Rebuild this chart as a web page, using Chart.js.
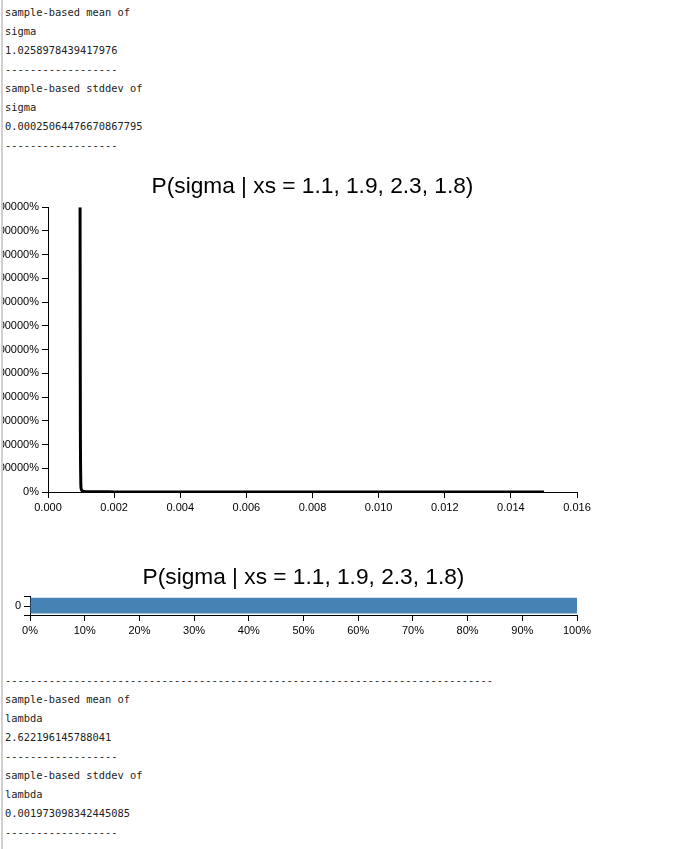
<!DOCTYPE html>
<html>
<head>
<meta charset="utf-8">
<script src="https://cdn.jsdelivr.net/npm/chart.js@4.4.1/dist/chart.umd.min.js"></script>
<style>
  html, body { margin: 0; padding: 0; background: #fff; }
  body { width: 690px; height: 849px; position: relative; overflow: hidden; }
  #rule { position: absolute; left: 1px; top: 0; width: 2px; height: 849px; background: #d0d0d0; z-index: 2; }
  #page { position: absolute; left: 3px; top: 0; width: 687px; height: 849px; overflow: hidden; }
  .log {
    position: absolute; left: 2px; margin: 0;
    font-family: "DejaVu Sans Mono", monospace; font-size: 10.4px;
    line-height: 19px; color: #222; white-space: pre;
  }
  .plot { position: absolute; }
</style>
</head>
<body>
<div id="rule"></div>
<div id="page">
  <pre class="log" id="logTop" style="top:3px"></pre>
  <div class="plot" style="left:-55px;top:173px;width:728px;height:349px;"><canvas id="density"></canvas></div>
  <div class="plot" style="left:-3px;top:564px;width:607px;height:81px;"><canvas id="bar"></canvas></div>
  <pre class="log" id="logBottom" style="top:671px"></pre>
</div>
<script>
// Posterior summaries printed around the plots
const sigmaLines = [
  'sample-based mean of', 'sigma', '1.0258978439417976', '------------------',
  'sample-based stddev of', 'sigma', '0.00025064476670867795', '------------------'
];
const lambdaLines = [
  '------------------------------------------------------------------------------',
  'sample-based mean of', 'lambda', '2.622196145788041', '------------------',
  'sample-based stddev of', 'lambda', '0.001973098342445085', '------------------'
];
document.getElementById('logTop').textContent = sigmaLines.join('\n');
document.getElementById('logBottom').textContent = lambdaLines.join('\n');

const titleText = 'P(sigma | xs = 1.1, 1.9, 2.3, 1.8)';

// Density curve of sigma
const sigmaValues = [0.00097, 0.000975, 0.00098, 0.00099, 0.00100, 0.00102, 0.00105, 0.0011, 0.0013, 0.002, 0.004, 0.007, 0.010, 0.015];
const densityValues = [12000000, 6000000, 2500000, 600000, 160000, 70000, 35000, 18000, 9000, 5000, 2000, 1000, 600, 400];
const xTickLabels = ['0.000', '0.002', '0.004', '0.006', '0.008', '0.010', '0.012', '0.014', '0.016'];

// Bar of the probability mass
const barCategories = ['0'];
const barValues = [1];
const barTickLabels = ['0%', '10%', '20%', '30%', '40%', '50%', '60%', '70%', '80%', '90%', '100%'];

Chart.defaults.font.family = '"Liberation Sans", Arial, sans-serif';
Chart.defaults.color = '#000';
Chart.defaults.animation = false;

const axisGrid = { drawOnChartArea: false, color: '#000', tickLength: 6, tickColor: '#000' };
const axisBorder = { color: '#000', width: 1 };
const titleFont = { size: 22.7, weight: 'normal' };

new Chart(document.getElementById('density'), {
  type: 'line',
  data: {
    datasets: [{
      data: sigmaValues.map((s, i) => ({ x: s, y: densityValues[i] })),
      borderColor: '#000',
      borderWidth: 3,
      pointRadius: 0,
      fill: false,
      cubicInterpolationMode: 'monotone'
    }]
  },
  options: {
    responsive: true,
    maintainAspectRatio: false,
    layout: { padding: { top: 0, right: 99, bottom: 0, left: 0 } },
    plugins: { legend: { display: false }, tooltip: { enabled: false },
      title: { display: true, fullSize: false, text: titleText, font: titleFont, color: '#000', padding: { top: 0, bottom: 7 } } },
    scales: {
      x: {
        type: 'linear', min: 0, max: 0.016,
        grid: axisGrid, border: axisBorder,
        afterFit: s => { s.height = 30; },
        afterBuildTicks: s => { s.ticks = xTickLabels.map(t => ({ value: parseFloat(t) })); },
        ticks: { padding: 3, font: { size: 11 }, maxRotation: 0, autoSkip: false,
          callback: (v, i) => xTickLabels[i] }
      },
      y: {
        type: 'linear', min: 0, max: 12000000,
        grid: axisGrid, border: axisBorder,
        afterFit: s => { s.width = 100; },
        ticks: { stepSize: 1000000, padding: 3, font: { size: 11 },
          callback: v => Math.round(v * 100) + '%' }
      }
    }
  }
});

// Draws the centre tick of the single category band
const bandTick = {
  id: 'bandTick',
  afterDraw(chart) {
    const y = chart.scales.y, ctx = chart.ctx;
    ctx.save();
    ctx.strokeStyle = '#000';
    ctx.lineWidth = 1;
    barCategories.forEach((c, i) => {
      const py = Math.round(y.getPixelForTick(i)) + 0.5;
      ctx.beginPath();
      ctx.moveTo(y.right - 6, py);
      ctx.lineTo(y.right, py);
      ctx.stroke();
    });
    ctx.restore();
  }
};

new Chart(document.getElementById('bar'), {
  type: 'bar',
  data: {
    labels: barCategories,
    datasets: [{
      data: barValues,
      backgroundColor: '#4682b4',
      borderWidth: 0,
      barPercentage: 0.85,
      categoryPercentage: 1
    }]
  },
  options: {
    indexAxis: 'y',
    responsive: true,
    maintainAspectRatio: false,
    layout: { padding: { top: 0, right: 30, bottom: 0, left: 0 } },
    plugins: { legend: { display: false }, tooltip: { enabled: false },
      title: { display: true, fullSize: false, text: titleText, font: titleFont, color: '#000', padding: { top: 0, bottom: 5 } } },
    scales: {
      x: {
        type: 'linear', min: 0, max: 1,
        grid: axisGrid, border: axisBorder,
        afterFit: s => { s.height = 30; },
        ticks: { stepSize: 0.1, padding: 3, font: { size: 11 }, maxRotation: 0, autoSkip: false,
          callback: (v, i) => barTickLabels[i] }
      },
      y: {
        type: 'category',
        grid: Object.assign({}, axisGrid, { offset: true }),
        border: axisBorder,
        afterFit: s => { s.width = 30; },
        ticks: { padding: 3, font: { size: 11 } }
      }
    }
  },
  plugins: [bandTick]
});
</script>
</body>
</html>
